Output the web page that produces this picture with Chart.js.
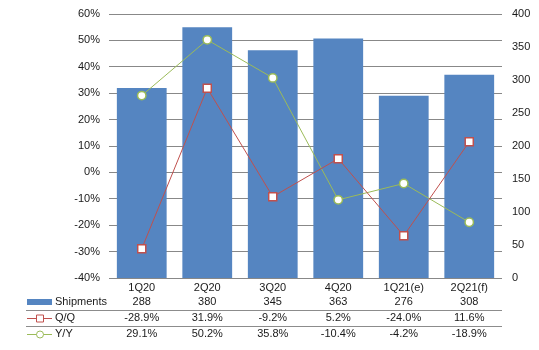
<!DOCTYPE html>
<html>
<head>
<meta charset="utf-8">
<script src="https://cdn.jsdelivr.net/npm/chart.js@4.4.0/dist/chart.umd.min.js"></script>
<style>
    body { margin: 0; background: #fff; }
    #wrap { width: 539px; height: 350px; }
</style>
</head>
<body>
<div id="wrap"><canvas id="myChart" width="539" height="350"></canvas></div>
<script>
// data
const labels = ['1Q20', '2Q20', '3Q20', '4Q20', '1Q21(e)', '2Q21(f)'];
const shipments = [288, 380, 345, 363, 276, 308];
const qoq = [-28.9, 31.9, -9.2, 5.2, -24.0, 11.6];
const yoy = [29.1, 50.2, 35.8, -10.4, -4.2, -18.9];

const BLUE = '#5585C1';
const RED = '#C0504D';
const GREEN = '#9BBB59';
const TXT = '#1a1a1a';
const FONT = '"Liberation Sans", Arial, sans-serif';

// 표 그리기 (아래 데이터 테이블)
const tablePlugin = {
    id: 'dataTable',
    afterDraw: function (chart) {
        const c = chart.ctx;
        const x = chart.scales.x;
        const rows = [
            { name: 'Shipments', vals: shipments.map(function (v) { return String(v); }), y: 302 },
            { name: 'Q/Q', vals: qoq.map(function (v) { return v.toFixed(1) + '%'; }), y: 318 },
            { name: 'Y/Y', vals: yoy.map(function (v) { return v.toFixed(1) + '%'; }), y: 334 }
        ];
        c.save();
        // separator lines
        c.strokeStyle = '#8c8c8c';
        c.lineWidth = 1;
        [310.5, 326.5].forEach(function (ly) {
            c.beginPath();
            c.moveTo(26, ly);
            c.lineTo(chart.chartArea.right, ly);
            c.stroke();
        });
        c.font = '11px ' + FONT;
        c.fillStyle = TXT;
        c.textBaseline = 'middle';
        rows.forEach(function (r, ri) {
            // legend symbol
            if (ri === 0) {
                c.fillStyle = BLUE;
                c.fillRect(27, r.y - 3, 25, 6);
            } else {
                const col = ri === 1 ? RED : GREEN;
                c.strokeStyle = col;
                c.beginPath();
                c.moveTo(27, r.y + 0.5);
                c.lineTo(52, r.y + 0.5);
                c.stroke();
                c.fillStyle = '#fff';
                c.beginPath();
                if (ri === 1) {
                    c.rect(36.5, r.y - 3, 7, 7);
                } else {
                    c.arc(40, r.y + 0.5, 3.5, 0, Math.PI * 2);
                }
                c.fill();
                c.stroke();
            }
            c.fillStyle = TXT;
            c.textAlign = 'left';
            c.fillText(r.name, 55, r.y);
            c.textAlign = 'center';
            for (let i = 0; i < r.vals.length; i++) {
                c.fillText(r.vals[i], x.getPixelForValue(i), r.y);
            }
        });
        c.restore();
    }
};

// 축 크기 고정
function fixV(w) {
    return function (s) {
        s.width = w;
        s.paddingTop = 0;
        s.paddingBottom = 0;
    };
}

const ctx = document.getElementById('myChart').getContext('2d');
new Chart(ctx, {
    data: {
        labels: labels,
        datasets: [{
            type: 'line',
            label: 'Q/Q',
            data: qoq,
            yAxisID: 'y',
            borderColor: RED,
            borderWidth: 1,
            backgroundColor: '#fff',
            pointStyle: 'rect',
            pointRadius: 5.7,
            pointBorderWidth: 1.5,
            pointBorderColor: RED,
            tension: 0,
            order: 1
        }, {
            type: 'line',
            label: 'Y/Y',
            data: yoy,
            yAxisID: 'y',
            borderColor: GREEN,
            borderWidth: 1,
            backgroundColor: '#fff',
            pointStyle: 'circle',
            pointRadius: 4.2,
            pointBorderWidth: 1.5,
            pointBorderColor: GREEN,
            tension: 0,
            order: 2
        }, {
            type: 'bar',
            label: 'Shipments',
            data: shipments,
            yAxisID: 'y1',
            backgroundColor: BLUE,
            categoryPercentage: 1,
            barPercentage: 0.76,
            order: 3
        }]
    },
    options: {
        responsive: false,
        animation: false,
        layout: { padding: { top: 14, right: 0, left: 0, bottom: 0 } },
        plugins: {
            legend: { display: false },
            tooltip: { enabled: false }
        },
        scales: {
            x: {
                grid: { display: false, drawTicks: false },
                border: { display: false },
                ticks: { color: TXT, font: { family: FONT, size: 11 }, padding: 3 },
                afterFit: function (s) { s.height = 72; s.paddingLeft = 0; s.paddingRight = 0; }
            },
            y: {
                position: 'left',
                min: -40,
                max: 60,
                grid: { color: '#888', drawTicks: false },
                border: { display: false },
                ticks: {
                    stepSize: 10,
                    color: TXT,
                    font: { family: FONT, size: 11 },
                    padding: 9,
                    callback: function (v) { return v + '%'; }
                },
                afterFit: fixV(109)
            },
            y1: {
                position: 'right',
                min: 0,
                max: 400,
                grid: { display: false, drawTicks: false },
                border: { display: false },
                ticks: {
                    stepSize: 50,
                    color: TXT,
                    font: { family: FONT, size: 11 },
                    padding: 10
                },
                afterFit: fixV(37)
            }
        }
    },
    plugins: [tablePlugin]
});
</script>
</body>
</html>
